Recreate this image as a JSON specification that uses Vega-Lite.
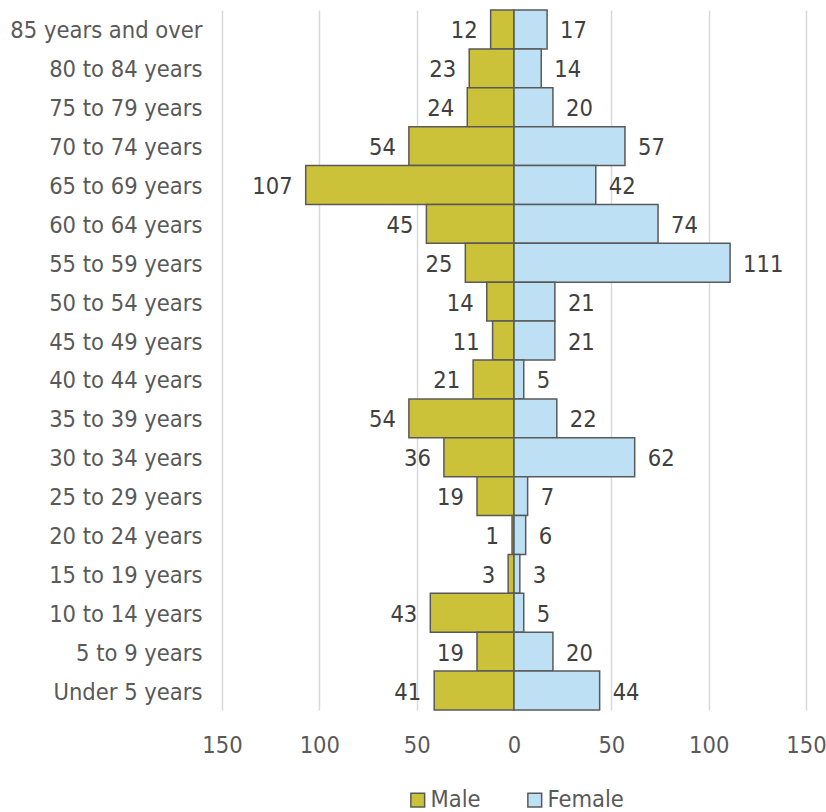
{
  "$schema": "https://vega.github.io/schema/vega-lite/v6.json",
  "width": 584,
  "height": 700,
  "autosize": "none",
  "padding": {"left": 222, "top": 10, "right": 20, "bottom": 102},
  "config": {
    "view": {"stroke": null},
    "font": "DejaVu Sans Condensed",
    "axis": {"labelFont": "DejaVu Sans Condensed", "labelColor": "#595959", "labelFontSize": 23.5},
    "legend": {"labelFont": "DejaVu Sans Condensed", "labelColor": "#595959", "labelFontSize": 23.5}
  },
  "data": {
    "values": [
      {"age": "85 years and over", "sex": "Male", "count": 12},
      {"age": "85 years and over", "sex": "Female", "count": 17},
      {"age": "80 to 84 years", "sex": "Male", "count": 23},
      {"age": "80 to 84 years", "sex": "Female", "count": 14},
      {"age": "75 to 79 years", "sex": "Male", "count": 24},
      {"age": "75 to 79 years", "sex": "Female", "count": 20},
      {"age": "70 to 74 years", "sex": "Male", "count": 54},
      {"age": "70 to 74 years", "sex": "Female", "count": 57},
      {"age": "65 to 69 years", "sex": "Male", "count": 107},
      {"age": "65 to 69 years", "sex": "Female", "count": 42},
      {"age": "60 to 64 years", "sex": "Male", "count": 45},
      {"age": "60 to 64 years", "sex": "Female", "count": 74},
      {"age": "55 to 59 years", "sex": "Male", "count": 25},
      {"age": "55 to 59 years", "sex": "Female", "count": 111},
      {"age": "50 to 54 years", "sex": "Male", "count": 14},
      {"age": "50 to 54 years", "sex": "Female", "count": 21},
      {"age": "45 to 49 years", "sex": "Male", "count": 11},
      {"age": "45 to 49 years", "sex": "Female", "count": 21},
      {"age": "40 to 44 years", "sex": "Male", "count": 21},
      {"age": "40 to 44 years", "sex": "Female", "count": 5},
      {"age": "35 to 39 years", "sex": "Male", "count": 54},
      {"age": "35 to 39 years", "sex": "Female", "count": 22},
      {"age": "30 to 34 years", "sex": "Male", "count": 36},
      {"age": "30 to 34 years", "sex": "Female", "count": 62},
      {"age": "25 to 29 years", "sex": "Male", "count": 19},
      {"age": "25 to 29 years", "sex": "Female", "count": 7},
      {"age": "20 to 24 years", "sex": "Male", "count": 1},
      {"age": "20 to 24 years", "sex": "Female", "count": 6},
      {"age": "15 to 19 years", "sex": "Male", "count": 3},
      {"age": "15 to 19 years", "sex": "Female", "count": 3},
      {"age": "10 to 14 years", "sex": "Male", "count": 43},
      {"age": "10 to 14 years", "sex": "Female", "count": 5},
      {"age": "5 to 9 years", "sex": "Male", "count": 19},
      {"age": "5 to 9 years", "sex": "Female", "count": 20},
      {"age": "Under 5 years", "sex": "Male", "count": 41},
      {"age": "Under 5 years", "sex": "Female", "count": 44}
    ]
  },
  "transform": [
    {"calculate": "datum.sex === 'Male' ? -datum.count : datum.count", "as": "signed"}
  ],
  "encoding": {
    "y": {
      "field": "age",
      "type": "nominal",
      "sort": ["85 years and over", "80 to 84 years", "75 to 79 years", "70 to 74 years", "65 to 69 years", "60 to 64 years", "55 to 59 years", "50 to 54 years", "45 to 49 years", "40 to 44 years", "35 to 39 years", "30 to 34 years", "25 to 29 years", "20 to 24 years", "15 to 19 years", "10 to 14 years", "5 to 9 years", "Under 5 years"],
      "scale": {"paddingInner": 0, "paddingOuter": 0},
      "axis": {"title": null, "domain": false, "ticks": false, "labelPadding": 20, "grid": false, "labelLimit": 0, "labelOffset": 2}
    },
    "x": {
      "field": "signed",
      "type": "quantitative",
      "scale": {"domain": [-150, 150], "nice": false},
      "axis": {
        "title": null,
        "values": [-150, -100, -50, 0, 50, 100, 150],
        "labelExpr": "format(abs(datum.value), 'd')",
        "labelFlush": false,
        "domain": false,
        "ticks": false,
        "grid": true,
        "gridColor": "#D9D9D9",
        "gridWidth": 1.5,
        "labelPadding": 23
      }
    }
  },
  "layer": [
    {
      "mark": {"type": "bar", "stroke": "#595959", "strokeWidth": 1.5},
      "encoding": {
        "color": {
          "field": "sex",
          "type": "nominal",
          "scale": {"domain": ["Male", "Female"], "range": ["#CBC23A", "#BDE0F5"]},
          "legend": {
            "title": null,
            "orient": "none",
            "direction": "horizontal",
            "legendX": 184,
            "legendY": 778,
            "symbolType": "square",
            "symbolSize": 190,
            "symbolStrokeColor": "#595959",
            "symbolStrokeWidth": 1.5,
            "labelOffset": 1,
            "columnPadding": 42
          }
        }
      }
    },
    {
      "transform": [{"filter": "datum.sex === 'Male'"}],
      "mark": {"type": "text", "align": "right", "baseline": "middle", "dx": -13, "dy": 2, "fontSize": 23.5, "color": "#404040"},
      "encoding": {"text": {"field": "count", "type": "quantitative"}}
    },
    {
      "transform": [{"filter": "datum.sex === 'Female'"}],
      "mark": {"type": "text", "align": "left", "baseline": "middle", "dx": 13, "dy": 2, "fontSize": 23.5, "color": "#404040"},
      "encoding": {"text": {"field": "count", "type": "quantitative"}}
    }
  ]
}
